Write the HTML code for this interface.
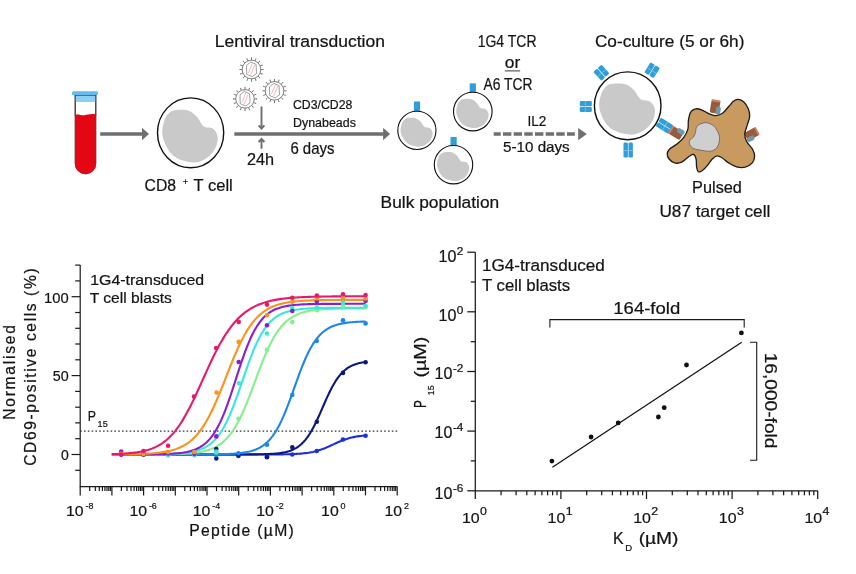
<!DOCTYPE html>
<html><head><meta charset="utf-8"><title>Figure</title>
<style>
html,body{margin:0;padding:0;background:#fff;}
svg{display:block;font-family:"Liberation Sans",sans-serif;fill:#141414;}
text{stroke:#141414;stroke-width:0.22px;}
</style></head><body>
<svg width="856" height="574" viewBox="0 0 856 574">
<rect width="856" height="574" fill="#fff"/>
<path d="M75.2,94 L75.2,163.5 A10.3,10.3 0 0 0 95.8,163.5 L95.8,94 Z" fill="#fff" stroke="#222" stroke-width="0.8"/>
<rect x="75.2" y="94" width="20.6" height="8" fill="#8ccff0"/>
<path d="M75.2,94V116M95.8,94V116M75.2,95.2H95.8" fill="none" stroke="#222" stroke-width="0.8"/>
<path d="M74.9,115 C78,113.6 81,115.6 84.5,115.2 C88,114.8 91.5,113.4 96.1,114.6 L96.1,163.6 A10.6,10.6 0 0 1 74.9,163.6 Z" fill="#e30613"/>
<rect x="71.9" y="91.2" width="26.1" height="3.8" rx="1.6" fill="#62bbea"/>
<line x1="100.2" y1="134.1" x2="142.5" y2="134.1" stroke="#6f6f6f" stroke-width="3.5"/>
<path d="M142,127.85L149,134.1L142,140.35Z" fill="#6f6f6f"/>
<ellipse cx="190.6" cy="132.8" rx="33.1" ry="34.9" fill="#fff" stroke="#111" stroke-width="1.4"/>
<path d="M173.5,110.4C175.6,109.8 178.7,109.6 181.3,109.7C183.9,109.8 186.6,109.7 189.2,110.9C191.8,112.1 195.0,114.5 197.0,116.7C199.0,118.8 200.1,122.1 201.4,123.8C202.7,125.5 203.0,126.1 204.9,126.9C206.8,127.7 210.6,127.1 212.7,128.5C214.8,129.9 216.8,132.7 217.4,135.5C218.1,138.3 217.8,141.7 216.6,145.0C215.4,148.3 213.4,152.4 210.4,155.2C207.4,158.0 202.7,160.9 198.6,161.9C194.5,162.9 190.3,162.4 186.1,161.4C181.9,160.4 176.9,158.6 173.5,155.9C170.1,153.2 167.6,148.9 165.7,145.0C163.8,141.1 162.3,136.7 162.2,132.4C162.1,128.1 163.8,122.3 164.9,119.1C166.0,115.9 167.4,114.7 168.8,113.3C170.2,111.8 171.4,111.0 173.5,110.4Z" fill="#c9c9c9"/>
<text x="144.6" y="191.0" font-size="16.7" textLength="31.5" lengthAdjust="spacingAndGlyphs" >CD8</text>
<text x="182.8" y="185.2" font-size="9.5" textLength="5.4" lengthAdjust="spacingAndGlyphs" >+</text>
<text x="193.6" y="191.0" font-size="16.7" textLength="39.2" lengthAdjust="spacingAndGlyphs" >T cell</text>
<text x="214.8" y="47.1" font-size="16.7" textLength="170.1" lengthAdjust="spacingAndGlyphs" >Lentiviral transduction</text>
<g stroke="#555" stroke-width="0.75" fill="none"><circle cx="251.5" cy="69.5" r="9.3" fill="#fff"/><line x1="260.8" y1="69.5" x2="262.8" y2="69.5"/><circle cx="263.1" cy="69.5" r="0.55" fill="#5a5a5a" stroke="none"/><line x1="260.1" y1="73.1" x2="261.9" y2="73.8"/><circle cx="262.2" cy="73.9" r="0.55" fill="#5a5a5a" stroke="none"/><line x1="258.1" y1="76.1" x2="259.5" y2="77.5"/><circle cx="259.7" cy="77.7" r="0.55" fill="#5a5a5a" stroke="none"/><line x1="255.1" y1="78.1" x2="255.8" y2="79.9"/><circle cx="255.9" cy="80.2" r="0.55" fill="#5a5a5a" stroke="none"/><line x1="251.5" y1="78.8" x2="251.5" y2="80.8"/><circle cx="251.5" cy="81.1" r="0.55" fill="#5a5a5a" stroke="none"/><line x1="247.9" y1="78.1" x2="247.2" y2="79.9"/><circle cx="247.1" cy="80.2" r="0.55" fill="#5a5a5a" stroke="none"/><line x1="244.9" y1="76.1" x2="243.5" y2="77.5"/><circle cx="243.3" cy="77.7" r="0.55" fill="#5a5a5a" stroke="none"/><line x1="242.9" y1="73.1" x2="241.1" y2="73.8"/><circle cx="240.8" cy="73.9" r="0.55" fill="#5a5a5a" stroke="none"/><line x1="242.2" y1="69.5" x2="240.2" y2="69.5"/><circle cx="239.9" cy="69.5" r="0.55" fill="#5a5a5a" stroke="none"/><line x1="242.9" y1="65.9" x2="241.1" y2="65.2"/><circle cx="240.8" cy="65.1" r="0.55" fill="#5a5a5a" stroke="none"/><line x1="244.9" y1="62.9" x2="243.5" y2="61.5"/><circle cx="243.3" cy="61.3" r="0.55" fill="#5a5a5a" stroke="none"/><line x1="247.9" y1="60.9" x2="247.2" y2="59.1"/><circle cx="247.1" cy="58.8" r="0.55" fill="#5a5a5a" stroke="none"/><line x1="251.5" y1="60.2" x2="251.5" y2="58.2"/><circle cx="251.5" cy="57.9" r="0.55" fill="#5a5a5a" stroke="none"/><line x1="255.1" y1="60.9" x2="255.8" y2="59.1"/><circle cx="255.9" cy="58.8" r="0.55" fill="#5a5a5a" stroke="none"/><line x1="258.1" y1="62.9" x2="259.5" y2="61.5"/><circle cx="259.7" cy="61.3" r="0.55" fill="#5a5a5a" stroke="none"/><line x1="260.1" y1="65.9" x2="261.9" y2="65.2"/><circle cx="262.2" cy="65.1" r="0.55" fill="#5a5a5a" stroke="none"/><polygon points="250.7,62.0 256.1,64.3 256.5,73.5 252.2,76.6 246.7,74.3 246.5,65.5" stroke-width="0.55"/><path d="M248.4,73.0L252.4,63.2M250.7,74.7L254.7,64.9" stroke="#e88a90" stroke-width="0.6"/></g>
<g stroke="#555" stroke-width="0.75" fill="none"><circle cx="274.5" cy="90.8" r="9.3" fill="#fff"/><line x1="283.8" y1="90.8" x2="285.8" y2="90.8"/><circle cx="286.1" cy="90.8" r="0.55" fill="#5a5a5a" stroke="none"/><line x1="283.1" y1="94.4" x2="284.9" y2="95.1"/><circle cx="285.2" cy="95.2" r="0.55" fill="#5a5a5a" stroke="none"/><line x1="281.1" y1="97.4" x2="282.5" y2="98.8"/><circle cx="282.7" cy="99.0" r="0.55" fill="#5a5a5a" stroke="none"/><line x1="278.1" y1="99.4" x2="278.8" y2="101.2"/><circle cx="278.9" cy="101.5" r="0.55" fill="#5a5a5a" stroke="none"/><line x1="274.5" y1="100.1" x2="274.5" y2="102.1"/><circle cx="274.5" cy="102.4" r="0.55" fill="#5a5a5a" stroke="none"/><line x1="270.9" y1="99.4" x2="270.2" y2="101.2"/><circle cx="270.1" cy="101.5" r="0.55" fill="#5a5a5a" stroke="none"/><line x1="267.9" y1="97.4" x2="266.5" y2="98.8"/><circle cx="266.3" cy="99.0" r="0.55" fill="#5a5a5a" stroke="none"/><line x1="265.9" y1="94.4" x2="264.1" y2="95.1"/><circle cx="263.8" cy="95.2" r="0.55" fill="#5a5a5a" stroke="none"/><line x1="265.2" y1="90.8" x2="263.2" y2="90.8"/><circle cx="262.9" cy="90.8" r="0.55" fill="#5a5a5a" stroke="none"/><line x1="265.9" y1="87.2" x2="264.1" y2="86.5"/><circle cx="263.8" cy="86.4" r="0.55" fill="#5a5a5a" stroke="none"/><line x1="267.9" y1="84.2" x2="266.5" y2="82.8"/><circle cx="266.3" cy="82.6" r="0.55" fill="#5a5a5a" stroke="none"/><line x1="270.9" y1="82.2" x2="270.2" y2="80.4"/><circle cx="270.1" cy="80.1" r="0.55" fill="#5a5a5a" stroke="none"/><line x1="274.5" y1="81.5" x2="274.5" y2="79.5"/><circle cx="274.5" cy="79.2" r="0.55" fill="#5a5a5a" stroke="none"/><line x1="278.1" y1="82.2" x2="278.8" y2="80.4"/><circle cx="278.9" cy="80.1" r="0.55" fill="#5a5a5a" stroke="none"/><line x1="281.1" y1="84.2" x2="282.5" y2="82.8"/><circle cx="282.7" cy="82.6" r="0.55" fill="#5a5a5a" stroke="none"/><line x1="283.1" y1="87.2" x2="284.9" y2="86.5"/><circle cx="285.2" cy="86.4" r="0.55" fill="#5a5a5a" stroke="none"/><polygon points="273.7,83.3 279.1,85.6 279.5,94.8 275.2,97.9 269.7,95.6 269.5,86.8" stroke-width="0.55"/><path d="M271.4,94.3L275.4,84.5M273.7,96.0L277.7,86.2" stroke="#e88a90" stroke-width="0.6"/></g>
<g stroke="#555" stroke-width="0.75" fill="none"><circle cx="245.0" cy="98.9" r="9.3" fill="#fff"/><line x1="254.3" y1="98.9" x2="256.3" y2="98.9"/><circle cx="256.6" cy="98.9" r="0.55" fill="#5a5a5a" stroke="none"/><line x1="253.6" y1="102.5" x2="255.4" y2="103.2"/><circle cx="255.7" cy="103.3" r="0.55" fill="#5a5a5a" stroke="none"/><line x1="251.6" y1="105.5" x2="253.0" y2="106.9"/><circle cx="253.2" cy="107.1" r="0.55" fill="#5a5a5a" stroke="none"/><line x1="248.6" y1="107.5" x2="249.3" y2="109.3"/><circle cx="249.4" cy="109.6" r="0.55" fill="#5a5a5a" stroke="none"/><line x1="245.0" y1="108.2" x2="245.0" y2="110.2"/><circle cx="245.0" cy="110.5" r="0.55" fill="#5a5a5a" stroke="none"/><line x1="241.4" y1="107.5" x2="240.7" y2="109.3"/><circle cx="240.6" cy="109.6" r="0.55" fill="#5a5a5a" stroke="none"/><line x1="238.4" y1="105.5" x2="237.0" y2="106.9"/><circle cx="236.8" cy="107.1" r="0.55" fill="#5a5a5a" stroke="none"/><line x1="236.4" y1="102.5" x2="234.6" y2="103.2"/><circle cx="234.3" cy="103.3" r="0.55" fill="#5a5a5a" stroke="none"/><line x1="235.7" y1="98.9" x2="233.7" y2="98.9"/><circle cx="233.4" cy="98.9" r="0.55" fill="#5a5a5a" stroke="none"/><line x1="236.4" y1="95.3" x2="234.6" y2="94.6"/><circle cx="234.3" cy="94.5" r="0.55" fill="#5a5a5a" stroke="none"/><line x1="238.4" y1="92.3" x2="237.0" y2="90.9"/><circle cx="236.8" cy="90.7" r="0.55" fill="#5a5a5a" stroke="none"/><line x1="241.4" y1="90.3" x2="240.7" y2="88.5"/><circle cx="240.6" cy="88.2" r="0.55" fill="#5a5a5a" stroke="none"/><line x1="245.0" y1="89.6" x2="245.0" y2="87.6"/><circle cx="245.0" cy="87.3" r="0.55" fill="#5a5a5a" stroke="none"/><line x1="248.6" y1="90.3" x2="249.3" y2="88.5"/><circle cx="249.4" cy="88.2" r="0.55" fill="#5a5a5a" stroke="none"/><line x1="251.6" y1="92.3" x2="253.0" y2="90.9"/><circle cx="253.2" cy="90.7" r="0.55" fill="#5a5a5a" stroke="none"/><line x1="253.6" y1="95.3" x2="255.4" y2="94.6"/><circle cx="255.7" cy="94.5" r="0.55" fill="#5a5a5a" stroke="none"/><polygon points="244.2,91.4 249.6,93.7 250.0,102.9 245.7,106.0 240.2,103.7 240.0,94.9" stroke-width="0.55"/><path d="M241.9,102.4L245.9,92.6M244.2,104.1L248.2,94.3" stroke="#e88a90" stroke-width="0.6"/></g>
<g stroke="#6f6f6f" stroke-width="1.9" fill="none"><path d="M261.5,106.4V128.2M258.6,125.4L261.5,128.6L264.4,125.4"/><path d="M261.5,148.8V139.2M258.6,142L261.5,138.8L264.4,142"/></g>
<line x1="234.3" y1="134.1" x2="383.6" y2="134.1" stroke="#6f6f6f" stroke-width="3.5"/>
<path d="M383.1,127.85L390.1,134.1L383.1,140.35Z" fill="#6f6f6f"/>
<text x="246.9" y="165.0" font-size="15.9" textLength="27.1" lengthAdjust="spacingAndGlyphs" >24h</text>
<text x="293.0" y="109.1" font-size="12.8" textLength="59.4" lengthAdjust="spacingAndGlyphs" >CD3/CD28</text>
<text x="293.0" y="126.6" font-size="12.8" textLength="62.9" lengthAdjust="spacingAndGlyphs" >Dynabeads</text>
<text x="290.4" y="154.0" font-size="15.9" textLength="44.1" lengthAdjust="spacingAndGlyphs" >6 days</text>
<rect x="413.9" y="101.5" width="6.2" height="9.5" fill="#2f9edb"/>
<ellipse cx="416.9" cy="130.4" rx="19.1" ry="19.1" fill="#fff" stroke="#111" stroke-width="1.1"/>
<path d="M407.0,118.1C408.2,117.8 410.0,117.7 411.5,117.8C413.0,117.8 414.6,117.8 416.1,118.4C417.6,119.0 419.4,120.4 420.6,121.6C421.8,122.8 422.4,124.5 423.1,125.5C423.9,126.4 424.1,126.7 425.2,127.2C426.2,127.6 428.5,127.3 429.7,128.0C430.9,128.8 432.0,130.4 432.4,131.9C432.7,133.4 432.6,135.3 431.9,137.1C431.2,138.9 430.1,141.1 428.3,142.7C426.6,144.2 423.9,145.8 421.5,146.3C419.2,146.9 416.7,146.6 414.3,146.1C411.9,145.5 409.0,144.5 407.0,143.0C405.1,141.6 403.6,139.2 402.5,137.1C401.4,134.9 400.6,132.5 400.5,130.2C400.4,127.8 401.4,124.6 402.1,122.9C402.7,121.2 403.5,120.5 404.3,119.7C405.1,118.9 405.8,118.5 407.0,118.1Z" fill="#c9c9c9"/>
<rect x="469.7" y="83.39999999999999" width="6.2" height="9.5" fill="#2f9edb"/>
<ellipse cx="472.8" cy="111.6" rx="19.3" ry="19.3" fill="#fff" stroke="#111" stroke-width="1.1"/>
<path d="M462.8,99.2C464.0,98.9 465.9,98.8 467.4,98.8C468.9,98.9 470.5,98.8 472.0,99.5C473.5,100.1 475.3,101.5 476.5,102.7C477.7,103.9 478.3,105.7 479.1,106.6C479.9,107.6 480.0,107.9 481.1,108.3C482.2,108.8 484.5,108.4 485.7,109.2C486.9,110.0 488.0,111.6 488.4,113.1C488.8,114.6 488.6,116.5 488.0,118.3C487.3,120.2 486.1,122.4 484.3,124.0C482.6,125.6 479.8,127.1 477.5,127.7C475.1,128.3 472.6,128.0 470.2,127.4C467.7,126.9 464.8,125.9 462.8,124.4C460.8,122.9 459.4,120.5 458.3,118.3C457.2,116.2 456.3,113.8 456.2,111.4C456.2,109.0 457.2,105.8 457.8,104.0C458.5,102.3 459.3,101.6 460.1,100.8C460.9,100.0 461.6,99.5 462.8,99.2Z" fill="#c9c9c9"/>
<rect x="450.5" y="137.0" width="6.2" height="9.5" fill="#2f9edb"/>
<ellipse cx="453.5" cy="164.7" rx="19.2" ry="19.2" fill="#fff" stroke="#111" stroke-width="1.1"/>
<path d="M443.6,152.4C444.8,152.0 446.6,151.9 448.1,152.0C449.6,152.0 451.2,152.0 452.7,152.6C454.2,153.3 456.0,154.7 457.2,155.8C458.4,157.0 459.0,158.8 459.8,159.7C460.5,160.7 460.7,161.0 461.8,161.5C462.9,161.9 465.1,161.5 466.3,162.3C467.5,163.1 468.7,164.7 469.0,166.2C469.4,167.7 469.3,169.6 468.6,171.4C467.9,173.2 466.7,175.5 465.0,177.0C463.2,178.6 460.5,180.1 458.1,180.7C455.8,181.3 453.3,181.0 450.9,180.4C448.5,179.9 445.6,178.9 443.6,177.4C441.6,175.9 440.1,173.6 439.1,171.4C438.0,169.3 437.1,166.9 437.0,164.5C436.9,162.1 438.0,158.9 438.6,157.2C439.2,155.4 440.0,154.8 440.9,154.0C441.7,153.2 442.4,152.7 443.6,152.4Z" fill="#c9c9c9"/>
<text x="380.6" y="208.4" font-size="16.7" textLength="118.6" lengthAdjust="spacingAndGlyphs" >Bulk population</text>
<text x="477.7" y="46.6" font-size="15.9" textLength="58.8" lengthAdjust="spacingAndGlyphs" >1G4 TCR</text>
<text x="504.8" y="68.2" font-size="15.9" textLength="15.4" lengthAdjust="spacingAndGlyphs" >or</text>
<line x1="504.8" y1="70.9" x2="520.2" y2="70.9" stroke="#222" stroke-width="0.9"/>
<text x="483.5" y="89.5" font-size="15.9" textLength="49.0" lengthAdjust="spacingAndGlyphs" >A6 TCR</text>
<text x="527.4" y="126.4" font-size="15.4" textLength="18.9" lengthAdjust="spacingAndGlyphs" >IL2</text>
<line x1="493.7" y1="134.1" x2="574.9" y2="134.1" stroke="#6f6f6f" stroke-width="3.5" stroke-dasharray="8.4 2.27" stroke-dashoffset="1.4"/>
<path d="M578.2,127.9L586.8,134.1L578.2,140.3Z" fill="#6f6f6f"/>
<text x="503.1" y="152.2" font-size="15.4" textLength="66.6" lengthAdjust="spacingAndGlyphs" >5-10 days</text>
<text x="594.9" y="47.1" font-size="16.7" textLength="149.5" lengthAdjust="spacingAndGlyphs" >Co-culture (5 or 6h)</text>
<g transform="translate(601.4,72.7) rotate(-42)"><rect x="-5.5" y="-6.0" width="5.2" height="12" rx="1.3" fill="#2f9edb"/><rect x="0.3" y="-6.0" width="5.2" height="12" rx="1.3" fill="#2f9edb"/><line x1="-5.5" y1="0.5" x2="5.5" y2="0.5" stroke="#7cc4ea" stroke-width="0.8"/></g>
<g transform="translate(652.1,70.2) rotate(32)"><rect x="-5.5" y="-6.0" width="5.2" height="12" rx="1.3" fill="#2f9edb"/><rect x="0.3" y="-6.0" width="5.2" height="12" rx="1.3" fill="#2f9edb"/><line x1="-5.5" y1="0.5" x2="5.5" y2="0.5" stroke="#7cc4ea" stroke-width="0.8"/></g>
<g transform="translate(585.8,106.6) rotate(90)"><rect x="-5.5" y="-6.0" width="5.2" height="12" rx="1.3" fill="#2f9edb"/><rect x="0.3" y="-6.0" width="5.2" height="12" rx="1.3" fill="#2f9edb"/><line x1="-5.5" y1="0.5" x2="5.5" y2="0.5" stroke="#7cc4ea" stroke-width="0.8"/></g>
<g transform="translate(628.2,150.0) rotate(0)"><rect x="-4.7" y="-7.5" width="4.4" height="15" rx="1.3" fill="#2f9edb"/><rect x="0.3" y="-7.5" width="4.4" height="15" rx="1.3" fill="#2f9edb"/><line x1="-4.7" y1="0.5" x2="4.7" y2="0.5" stroke="#7cc4ea" stroke-width="0.8"/></g>
<g transform="translate(664.6,125.8) rotate(-58)"><rect x="-5.0" y="-7.5" width="4.7" height="15" rx="1.3" fill="#2f9edb"/><rect x="0.3" y="-7.5" width="4.7" height="15" rx="1.3" fill="#2f9edb"/><line x1="-5.0" y1="0.5" x2="5.0" y2="0.5" stroke="#7cc4ea" stroke-width="0.8"/></g>
<ellipse cx="627.7" cy="105.8" rx="33.3" ry="33.9" fill="#fff" stroke="#111" stroke-width="1.4"/>
<path d="M610.5,84.0C612.6,83.5 615.7,83.3 618.3,83.4C621.0,83.4 623.7,83.4 626.3,84.5C628.9,85.7 632.1,88.1 634.1,90.2C636.2,92.2 637.2,95.4 638.6,97.1C639.9,98.7 640.2,99.3 642.1,100.1C644.0,100.8 647.8,100.2 649.9,101.6C652.0,103.0 654.0,105.8 654.7,108.4C655.3,111.1 655.0,114.5 653.9,117.7C652.7,120.8 650.6,124.8 647.6,127.6C644.6,130.3 639.8,133.1 635.7,134.1C631.7,135.1 627.4,134.6 623.2,133.6C619.0,132.6 613.9,130.9 610.5,128.2C607.1,125.6 604.5,121.5 602.6,117.7C600.8,113.8 599.3,109.6 599.1,105.4C599.0,101.2 600.7,95.6 601.8,92.5C603.0,89.4 604.3,88.3 605.8,86.9C607.2,85.4 608.4,84.6 610.5,84.0Z" fill="#c9c9c9"/>
<g transform="translate(715.6,107.0) rotate(10) scale(1.15)"><rect x="-4.4" y="-6" width="7.8" height="11.5" rx="1.5" fill="#9a5b3d"/><rect x="-4.4" y="-6.1" width="7.8" height="1.6" rx="0.8" fill="#cf8370"/><rect x="0.6" y="-0.8" width="4.2" height="6.8" rx="1.6" fill="#6f9aa8"/></g>
<g transform="translate(751.8,134.6) rotate(62) scale(1.15)"><rect x="-4.4" y="-6" width="7.8" height="11.5" rx="1.5" fill="#9a5b3d"/><rect x="-4.4" y="-6.1" width="7.8" height="1.6" rx="0.8" fill="#cf8370"/><rect x="0.6" y="-0.8" width="4.2" height="6.8" rx="1.6" fill="#6f9aa8"/></g>
<g transform="translate(676.6,132.6) rotate(-58) scale(1.15)"><rect x="-4.4" y="-6" width="7.8" height="11.5" rx="1.5" fill="#9a5b3d"/><rect x="-4.4" y="-6.1" width="7.8" height="1.6" rx="0.8" fill="#cf8370"/><rect x="0.6" y="-0.8" width="4.2" height="6.8" rx="1.6" fill="#6f9aa8"/></g>
<path d="M691.4,111.2C692.4,110.1 694.0,109.0 695.8,108.8C697.6,108.6 699.8,109.2 702.1,110.1C704.3,110.9 706.9,112.9 709.1,113.8C711.3,114.8 713.2,115.7 715.4,115.6C717.6,115.5 720.2,114.7 722.5,113.2C724.7,111.7 726.9,108.5 728.7,106.5C730.6,104.5 731.9,102.5 733.4,101.3C735.0,100.1 736.4,99.3 738.1,99.4C739.8,99.5 741.9,100.2 743.6,101.8C745.3,103.3 747.3,106.3 748.3,108.8C749.3,111.3 749.8,113.9 749.6,116.7C749.4,119.4 748.0,122.4 747.2,125.3C746.4,128.2 744.8,131.2 744.7,133.9C744.6,136.7 745.5,139.3 746.8,141.8C748.0,144.2 750.9,146.5 752.3,148.8C753.6,151.2 754.6,153.5 754.6,155.9C754.6,158.2 753.8,161.1 752.3,162.9C750.7,164.8 747.8,166.5 745.2,167.2C742.6,167.8 739.3,167.6 736.6,166.9C733.8,166.2 731.2,164.5 728.7,162.9C726.2,161.4 723.6,158.6 721.7,157.5C719.7,156.3 718.5,155.6 717.0,155.9C715.4,156.1 713.8,157.5 712.3,159.0C710.7,160.6 709.2,163.3 707.5,165.3C705.8,167.3 703.6,169.7 702.1,170.8C700.5,171.8 699.1,172.2 698.1,171.6C697.2,170.9 696.9,169.0 696.6,166.9C696.2,164.8 696.6,161.1 696.1,159.0C695.6,156.9 694.7,154.7 693.4,154.3C692.2,153.9 690.7,155.4 688.7,156.7C686.8,158.0 684.0,161.1 681.7,162.2C679.3,163.2 676.7,163.5 674.6,162.9C672.5,162.4 670.3,160.6 669.1,159.0C667.9,157.5 667.1,155.2 667.2,153.5C667.4,151.8 668.3,150.4 669.9,148.8C671.5,147.3 674.6,146.1 677.0,144.1C679.3,142.2 682.2,139.5 684.0,137.1C685.8,134.6 687.2,131.8 687.9,129.2C688.6,126.6 688.0,123.7 688.3,121.4C688.5,119.0 689.0,116.8 689.5,115.1C690.0,113.4 690.3,112.2 691.4,111.2Z" fill="#c99a5f" stroke="#1a1a1a" stroke-width="1.3" stroke-linejoin="round"/>
<path d="M698.1,125.3C699.4,124.4 701.8,123.3 703.6,122.9C705.5,122.6 707.2,122.5 709.1,123.3C711.1,124.0 713.7,125.7 715.4,127.6C717.0,129.6 718.3,132.4 719.0,134.7C719.7,137.1 719.7,139.5 719.3,141.8C718.9,144.0 717.9,146.5 716.5,148.0C715.1,149.6 713.1,150.8 710.7,151.2C708.3,151.6 704.8,150.8 702.1,150.4C699.3,150.0 696.3,149.7 694.2,148.8C692.2,147.9 690.6,146.3 689.8,144.9C689.1,143.5 689.2,141.5 689.8,140.2C690.4,138.9 692.5,138.4 693.4,137.1C694.4,135.8 695.0,133.8 695.5,132.4C695.9,130.9 695.7,129.6 696.1,128.4C696.5,127.3 696.9,126.2 698.1,125.3Z" fill="#cfcfcf" stroke="#666" stroke-width="0.9"/>
<text x="692.1" y="192.9" font-size="16.5" textLength="49.8" lengthAdjust="spacingAndGlyphs" >Pulsed</text>
<text x="659.4" y="216.7" font-size="16.5" textLength="110.9" lengthAdjust="spacingAndGlyphs" >U87 target cell</text>
<g stroke="#1a1a1a" stroke-width="1.2" fill="none" stroke-linecap="butt"><path d="M80.2,265.1V486.6H397.2"/><line x1="75.2" y1="470.3" x2="80.2" y2="470.3"/><line x1="71.60000000000001" y1="454.5" x2="80.2" y2="454.5"/><line x1="75.2" y1="438.7" x2="80.2" y2="438.7"/><line x1="75.2" y1="422.9" x2="80.2" y2="422.9"/><line x1="75.2" y1="407.2" x2="80.2" y2="407.2"/><line x1="75.2" y1="391.4" x2="80.2" y2="391.4"/><line x1="71.60000000000001" y1="375.6" x2="80.2" y2="375.6"/><line x1="75.2" y1="359.8" x2="80.2" y2="359.8"/><line x1="75.2" y1="344.0" x2="80.2" y2="344.0"/><line x1="75.2" y1="328.3" x2="80.2" y2="328.3"/><line x1="75.2" y1="312.5" x2="80.2" y2="312.5"/><line x1="71.60000000000001" y1="296.7" x2="80.2" y2="296.7"/><line x1="75.2" y1="280.9" x2="80.2" y2="280.9"/><line x1="75.2" y1="265.1" x2="80.2" y2="265.1"/><line x1="80.2" y1="486.6" x2="80.2" y2="495.40000000000003"/><line x1="89.7" y1="486.6" x2="89.7" y2="491.1"/><line x1="95.3" y1="486.6" x2="95.3" y2="491.1"/><line x1="99.3" y1="486.6" x2="99.3" y2="491.1"/><line x1="102.4" y1="486.6" x2="102.4" y2="491.1"/><line x1="104.9" y1="486.6" x2="104.9" y2="491.1"/><line x1="107.0" y1="486.6" x2="107.0" y2="491.1"/><line x1="108.8" y1="486.6" x2="108.8" y2="491.1"/><line x1="110.4" y1="486.6" x2="110.4" y2="491.1"/><line x1="111.9" y1="486.6" x2="111.9" y2="495.40000000000003"/><line x1="121.4" y1="486.6" x2="121.4" y2="491.1"/><line x1="127.0" y1="486.6" x2="127.0" y2="491.1"/><line x1="131.0" y1="486.6" x2="131.0" y2="491.1"/><line x1="134.1" y1="486.6" x2="134.1" y2="491.1"/><line x1="136.6" y1="486.6" x2="136.6" y2="491.1"/><line x1="138.7" y1="486.6" x2="138.7" y2="491.1"/><line x1="140.5" y1="486.6" x2="140.5" y2="491.1"/><line x1="142.1" y1="486.6" x2="142.1" y2="491.1"/><line x1="143.6" y1="486.6" x2="143.6" y2="495.40000000000003"/><line x1="153.1" y1="486.6" x2="153.1" y2="491.1"/><line x1="158.7" y1="486.6" x2="158.7" y2="491.1"/><line x1="162.7" y1="486.6" x2="162.7" y2="491.1"/><line x1="165.8" y1="486.6" x2="165.8" y2="491.1"/><line x1="168.3" y1="486.6" x2="168.3" y2="491.1"/><line x1="170.4" y1="486.6" x2="170.4" y2="491.1"/><line x1="172.2" y1="486.6" x2="172.2" y2="491.1"/><line x1="173.8" y1="486.6" x2="173.8" y2="491.1"/><line x1="175.3" y1="486.6" x2="175.3" y2="495.40000000000003"/><line x1="184.8" y1="486.6" x2="184.8" y2="491.1"/><line x1="190.4" y1="486.6" x2="190.4" y2="491.1"/><line x1="194.4" y1="486.6" x2="194.4" y2="491.1"/><line x1="197.5" y1="486.6" x2="197.5" y2="491.1"/><line x1="200.0" y1="486.6" x2="200.0" y2="491.1"/><line x1="202.1" y1="486.6" x2="202.1" y2="491.1"/><line x1="203.9" y1="486.6" x2="203.9" y2="491.1"/><line x1="205.5" y1="486.6" x2="205.5" y2="491.1"/><line x1="207.0" y1="486.6" x2="207.0" y2="495.40000000000003"/><line x1="216.5" y1="486.6" x2="216.5" y2="491.1"/><line x1="222.1" y1="486.6" x2="222.1" y2="491.1"/><line x1="226.1" y1="486.6" x2="226.1" y2="491.1"/><line x1="229.2" y1="486.6" x2="229.2" y2="491.1"/><line x1="231.7" y1="486.6" x2="231.7" y2="491.1"/><line x1="233.8" y1="486.6" x2="233.8" y2="491.1"/><line x1="235.6" y1="486.6" x2="235.6" y2="491.1"/><line x1="237.2" y1="486.6" x2="237.2" y2="491.1"/><line x1="238.7" y1="486.6" x2="238.7" y2="495.40000000000003"/><line x1="248.2" y1="486.6" x2="248.2" y2="491.1"/><line x1="253.8" y1="486.6" x2="253.8" y2="491.1"/><line x1="257.8" y1="486.6" x2="257.8" y2="491.1"/><line x1="260.9" y1="486.6" x2="260.9" y2="491.1"/><line x1="263.4" y1="486.6" x2="263.4" y2="491.1"/><line x1="265.5" y1="486.6" x2="265.5" y2="491.1"/><line x1="267.3" y1="486.6" x2="267.3" y2="491.1"/><line x1="268.9" y1="486.6" x2="268.9" y2="491.1"/><line x1="270.4" y1="486.6" x2="270.4" y2="495.40000000000003"/><line x1="279.9" y1="486.6" x2="279.9" y2="491.1"/><line x1="285.5" y1="486.6" x2="285.5" y2="491.1"/><line x1="289.5" y1="486.6" x2="289.5" y2="491.1"/><line x1="292.6" y1="486.6" x2="292.6" y2="491.1"/><line x1="295.1" y1="486.6" x2="295.1" y2="491.1"/><line x1="297.2" y1="486.6" x2="297.2" y2="491.1"/><line x1="299.0" y1="486.6" x2="299.0" y2="491.1"/><line x1="300.6" y1="486.6" x2="300.6" y2="491.1"/><line x1="302.1" y1="486.6" x2="302.1" y2="495.40000000000003"/><line x1="311.6" y1="486.6" x2="311.6" y2="491.1"/><line x1="317.2" y1="486.6" x2="317.2" y2="491.1"/><line x1="321.2" y1="486.6" x2="321.2" y2="491.1"/><line x1="324.3" y1="486.6" x2="324.3" y2="491.1"/><line x1="326.8" y1="486.6" x2="326.8" y2="491.1"/><line x1="328.9" y1="486.6" x2="328.9" y2="491.1"/><line x1="330.7" y1="486.6" x2="330.7" y2="491.1"/><line x1="332.3" y1="486.6" x2="332.3" y2="491.1"/><line x1="333.8" y1="486.6" x2="333.8" y2="495.40000000000003"/><line x1="343.3" y1="486.6" x2="343.3" y2="491.1"/><line x1="348.9" y1="486.6" x2="348.9" y2="491.1"/><line x1="352.9" y1="486.6" x2="352.9" y2="491.1"/><line x1="356.0" y1="486.6" x2="356.0" y2="491.1"/><line x1="358.5" y1="486.6" x2="358.5" y2="491.1"/><line x1="360.6" y1="486.6" x2="360.6" y2="491.1"/><line x1="362.4" y1="486.6" x2="362.4" y2="491.1"/><line x1="364.0" y1="486.6" x2="364.0" y2="491.1"/><line x1="365.5" y1="486.6" x2="365.5" y2="495.40000000000003"/><line x1="375.0" y1="486.6" x2="375.0" y2="491.1"/><line x1="380.6" y1="486.6" x2="380.6" y2="491.1"/><line x1="384.6" y1="486.6" x2="384.6" y2="491.1"/><line x1="387.7" y1="486.6" x2="387.7" y2="491.1"/><line x1="390.2" y1="486.6" x2="390.2" y2="491.1"/><line x1="392.3" y1="486.6" x2="392.3" y2="491.1"/><line x1="394.1" y1="486.6" x2="394.1" y2="491.1"/><line x1="395.7" y1="486.6" x2="395.7" y2="491.1"/><line x1="397.2" y1="486.6" x2="397.2" y2="495.40000000000003"/></g>
<line x1="80.2" y1="431.1" x2="397.2" y2="431.1" stroke="#333" stroke-width="1.2" stroke-dasharray="1.6 2.2"/>
<text x="66.0" y="515.8" font-size="15.3" textLength="17.6" lengthAdjust="spacingAndGlyphs">10</text>
<text x="85.5" y="508.5" font-size="9.4" textLength="7.9" lengthAdjust="spacingAndGlyphs">-8</text>
<text x="129.4" y="515.8" font-size="15.3" textLength="17.6" lengthAdjust="spacingAndGlyphs">10</text>
<text x="148.9" y="508.5" font-size="9.4" textLength="7.9" lengthAdjust="spacingAndGlyphs">-6</text>
<text x="192.8" y="515.8" font-size="15.3" textLength="17.6" lengthAdjust="spacingAndGlyphs">10</text>
<text x="212.3" y="508.5" font-size="9.4" textLength="7.9" lengthAdjust="spacingAndGlyphs">-4</text>
<text x="256.2" y="515.8" font-size="15.3" textLength="17.6" lengthAdjust="spacingAndGlyphs">10</text>
<text x="275.7" y="508.5" font-size="9.4" textLength="7.9" lengthAdjust="spacingAndGlyphs">-2</text>
<text x="321.1" y="515.8" font-size="15.3" textLength="17.6" lengthAdjust="spacingAndGlyphs">10</text>
<text x="340.6" y="508.5" font-size="9.4" textLength="5.0" lengthAdjust="spacingAndGlyphs">0</text>
<text x="384.5" y="515.8" font-size="15.3" textLength="17.6" lengthAdjust="spacingAndGlyphs">10</text>
<text x="404.0" y="508.5" font-size="9.4" textLength="5.0" lengthAdjust="spacingAndGlyphs">2</text>
<text x="44.1" y="303.3" font-size="15.3" textLength="24.6" lengthAdjust="spacingAndGlyphs" >100</text>
<text x="52.8" y="381.3" font-size="15.3" textLength="15.9" lengthAdjust="spacingAndGlyphs" >50</text>
<text x="60.9" y="459.9" font-size="15.3" textLength="7.8" lengthAdjust="spacingAndGlyphs" >0</text>
<text x="90.2" y="284.5" font-size="15.4" textLength="114.0" lengthAdjust="spacingAndGlyphs" >1G4-transduced</text>
<text x="89.7" y="302.9" font-size="15.4" textLength="82.2" lengthAdjust="spacingAndGlyphs" >T cell blasts</text>
<text x="87.8" y="420.6" font-size="14.5"><tspan textLength="8.2" lengthAdjust="spacingAndGlyphs">P</tspan><tspan dy="6.3" dx="1.6" font-size="9.6" textLength="10.1" lengthAdjust="spacingAndGlyphs">15</tspan></text>
<text x="189.2" y="536" font-size="15.7" textLength="104.6" lengthAdjust="spacing">Peptide (µM)</text>
<text transform="translate(15.3,419.8) rotate(-90)" font-size="15.6" textLength="94.7" lengthAdjust="spacing">Normalised</text>
<text transform="translate(35.6,465.8) rotate(-90)" font-size="15.6" textLength="197.4" lengthAdjust="spacing">CD69-positive cells (%)</text>
<polyline points="111.9,454.50 113.4,454.50 114.9,454.50 116.4,454.50 117.9,454.50 119.4,454.50 120.9,454.50 122.4,454.50 123.9,454.50 125.4,454.50 126.9,454.50 128.4,454.50 129.9,454.50 131.4,454.50 132.9,454.50 134.4,454.50 135.9,454.50 137.4,454.50 138.9,454.50 140.4,454.50 141.9,454.50 143.4,454.50 144.9,454.50 146.4,454.50 147.9,454.50 149.4,454.50 150.9,454.50 152.4,454.50 153.9,454.50 155.4,454.50 156.9,454.50 158.4,454.50 159.9,454.50 161.4,454.50 162.9,454.50 164.4,454.50 165.9,454.50 167.4,454.50 168.9,454.50 170.4,454.50 171.9,454.50 173.4,454.50 174.9,454.50 176.4,454.50 177.9,454.50 179.4,454.50 180.9,454.50 182.4,454.50 183.9,454.50 185.4,454.50 186.9,454.50 188.4,454.50 189.9,454.50 191.4,454.50 192.9,454.50 194.4,454.50 195.9,454.50 197.4,454.50 198.9,454.50 200.4,454.50 201.9,454.50 203.4,454.50 204.9,454.50 206.4,454.50 207.9,454.50 209.4,454.50 210.9,454.50 212.4,454.50 213.9,454.50 215.4,454.50 216.9,454.50 218.4,454.50 219.9,454.50 221.4,454.50 222.9,454.50 224.4,454.50 225.9,454.50 227.4,454.50 228.9,454.50 230.4,454.50 231.9,454.50 233.4,454.50 234.9,454.50 236.4,454.50 237.9,454.50 239.4,454.50 240.9,454.50 242.4,454.50 243.9,454.50 245.4,454.49 246.9,454.49 248.4,454.49 249.9,454.49 251.4,454.49 252.9,454.49 254.4,454.49 255.9,454.49 257.4,454.48 258.9,454.48 260.4,454.48 261.9,454.48 263.4,454.47 264.9,454.47 266.4,454.46 267.9,454.46 269.4,454.45 270.9,454.44 272.4,454.44 273.9,454.43 275.4,454.41 276.9,454.40 278.4,454.39 279.9,454.37 281.4,454.35 282.9,454.33 284.4,454.30 285.9,454.27 287.4,454.24 288.9,454.20 290.4,454.15 291.9,454.10 293.4,454.04 294.9,453.97 296.4,453.89 297.9,453.80 299.4,453.70 300.9,453.58 302.4,453.45 303.9,453.30 305.4,453.13 306.9,452.94 308.4,452.73 309.9,452.48 311.4,452.21 312.9,451.91 314.4,451.57 315.9,451.20 317.4,450.79 318.9,450.35 320.4,449.86 321.9,449.34 323.4,448.78 324.9,448.19 326.4,447.56 327.9,446.91 329.4,446.23 330.9,445.54 332.4,444.84 333.9,444.14 335.4,443.44 336.9,442.75 338.4,442.08 339.9,441.43 341.4,440.81 342.9,440.22 344.4,439.67 345.9,439.16 347.4,438.68 348.9,438.24 350.4,437.84 351.9,437.47 353.4,437.15 354.9,436.85 356.4,436.58 357.9,436.35 359.4,436.14 360.9,435.95 362.4,435.78 363.9,435.64 365.4,435.51 365.5,435.50" fill="none" stroke="#1b2fe0" stroke-width="2.1" stroke-linejoin="round"/>
<polyline points="111.9,454.50 113.4,454.50 114.9,454.50 116.4,454.50 117.9,454.50 119.4,454.50 120.9,454.50 122.4,454.50 123.9,454.50 125.4,454.50 126.9,454.50 128.4,454.50 129.9,454.50 131.4,454.50 132.9,454.50 134.4,454.50 135.9,454.50 137.4,454.50 138.9,454.50 140.4,454.50 141.9,454.50 143.4,454.50 144.9,454.50 146.4,454.50 147.9,454.50 149.4,454.50 150.9,454.50 152.4,454.50 153.9,454.50 155.4,454.50 156.9,454.50 158.4,454.50 159.9,454.50 161.4,454.50 162.9,454.50 164.4,454.50 165.9,454.50 167.4,454.50 168.9,454.50 170.4,454.50 171.9,454.50 173.4,454.50 174.9,454.50 176.4,454.50 177.9,454.50 179.4,454.50 180.9,454.50 182.4,454.50 183.9,454.50 185.4,454.50 186.9,454.50 188.4,454.50 189.9,454.50 191.4,454.50 192.9,454.50 194.4,454.50 195.9,454.50 197.4,454.50 198.9,454.50 200.4,454.50 201.9,454.50 203.4,454.50 204.9,454.50 206.4,454.50 207.9,454.50 209.4,454.50 210.9,454.50 212.4,454.50 213.9,454.50 215.4,454.50 216.9,454.50 218.4,454.50 219.9,454.50 221.4,454.50 222.9,454.49 224.4,454.49 225.9,454.49 227.4,454.49 228.9,454.49 230.4,454.49 231.9,454.49 233.4,454.49 234.9,454.48 236.4,454.48 237.9,454.48 239.4,454.47 240.9,454.47 242.4,454.46 243.9,454.46 245.4,454.45 246.9,454.44 248.4,454.44 249.9,454.42 251.4,454.41 252.9,454.40 254.4,454.38 255.9,454.36 257.4,454.34 258.9,454.32 260.4,454.29 261.9,454.26 263.4,454.22 264.9,454.17 266.4,454.12 267.9,454.06 269.4,453.99 270.9,453.91 272.4,453.82 273.9,453.71 275.4,453.59 276.9,453.45 278.4,453.28 279.9,453.10 281.4,452.88 282.9,452.62 284.4,452.33 285.9,452.00 287.4,451.62 288.9,451.17 290.4,450.67 291.9,450.09 293.4,449.43 294.9,448.68 296.4,447.82 297.9,446.85 299.4,445.75 300.9,444.51 302.4,443.12 303.9,441.56 305.4,439.83 306.9,437.92 308.4,435.81 309.9,433.51 311.4,431.02 312.9,428.34 314.4,425.47 315.9,422.44 317.4,419.27 318.9,415.98 320.4,412.60 321.9,409.17 323.4,405.71 324.9,402.28 326.4,398.91 327.9,395.62 329.4,392.46 330.9,389.44 332.4,386.59 333.9,383.92 335.4,381.43 336.9,379.15 338.4,377.06 339.9,375.16 341.4,373.44 342.9,371.89 344.4,370.51 345.9,369.28 347.4,368.19 348.9,367.23 350.4,366.38 351.9,365.63 353.4,364.98 354.9,364.40 356.4,363.90 357.9,363.47 359.4,363.09 360.9,362.75 362.4,362.47 363.9,362.22 365.4,362.00 365.5,361.99" fill="none" stroke="#0b1a7a" stroke-width="2.1" stroke-linejoin="round"/>
<polyline points="111.9,454.50 113.4,454.50 114.9,454.50 116.4,454.50 117.9,454.50 119.4,454.50 120.9,454.50 122.4,454.50 123.9,454.50 125.4,454.50 126.9,454.50 128.4,454.50 129.9,454.50 131.4,454.50 132.9,454.50 134.4,454.50 135.9,454.50 137.4,454.50 138.9,454.50 140.4,454.50 141.9,454.50 143.4,454.50 144.9,454.50 146.4,454.50 147.9,454.50 149.4,454.50 150.9,454.50 152.4,454.50 153.9,454.50 155.4,454.50 156.9,454.50 158.4,454.50 159.9,454.50 161.4,454.50 162.9,454.50 164.4,454.50 165.9,454.50 167.4,454.50 168.9,454.50 170.4,454.50 171.9,454.50 173.4,454.49 174.9,454.49 176.4,454.49 177.9,454.49 179.4,454.49 180.9,454.49 182.4,454.49 183.9,454.49 185.4,454.49 186.9,454.48 188.4,454.48 189.9,454.48 191.4,454.48 192.9,454.47 194.4,454.47 195.9,454.47 197.4,454.46 198.9,454.46 200.4,454.45 201.9,454.44 203.4,454.44 204.9,454.43 206.4,454.42 207.9,454.41 209.4,454.40 210.9,454.38 212.4,454.37 213.9,454.35 215.4,454.33 216.9,454.30 218.4,454.28 219.9,454.25 221.4,454.21 222.9,454.18 224.4,454.13 225.9,454.08 227.4,454.03 228.9,453.96 230.4,453.89 231.9,453.81 233.4,453.72 234.9,453.61 236.4,453.49 237.9,453.36 239.4,453.21 240.9,453.03 242.4,452.84 243.9,452.62 245.4,452.37 246.9,452.09 248.4,451.77 249.9,451.41 251.4,451.00 252.9,450.55 254.4,450.03 255.9,449.45 257.4,448.80 258.9,448.07 260.4,447.25 261.9,446.34 263.4,445.31 264.9,444.17 266.4,442.90 267.9,441.49 269.4,439.93 270.9,438.20 272.4,436.31 273.9,434.23 275.4,431.96 276.9,429.49 278.4,426.82 279.9,423.95 281.4,420.87 282.9,417.60 284.4,414.13 285.9,410.49 287.4,406.68 288.9,402.74 290.4,398.69 291.9,394.55 293.4,390.36 294.9,386.14 296.4,381.95 297.9,377.79 299.4,373.72 300.9,369.75 302.4,365.92 303.9,362.25 305.4,358.74 306.9,355.43 308.4,352.31 309.9,349.39 311.4,346.68 312.9,344.18 314.4,341.87 315.9,339.75 317.4,337.82 318.9,336.06 320.4,334.47 321.9,333.03 323.4,331.73 324.9,330.57 326.4,329.52 327.9,328.58 329.4,327.74 330.9,327.00 332.4,326.33 333.9,325.74 335.4,325.21 336.9,324.74 338.4,324.33 339.9,323.96 341.4,323.63 342.9,323.34 344.4,323.09 345.9,322.86 347.4,322.66 348.9,322.49 350.4,322.33 351.9,322.19 353.4,322.07 354.9,321.96 356.4,321.87 357.9,321.78 359.4,321.71 360.9,321.64 362.4,321.59 363.9,321.54 365.4,321.49 365.5,321.49" fill="none" stroke="#1f86ea" stroke-width="2.1" stroke-linejoin="round"/>
<polyline points="111.9,454.50 113.4,454.50 114.9,454.50 116.4,454.49 117.9,454.49 119.4,454.49 120.9,454.49 122.4,454.49 123.9,454.49 125.4,454.49 126.9,454.49 128.4,454.49 129.9,454.49 131.4,454.48 132.9,454.48 134.4,454.48 135.9,454.48 137.4,454.48 138.9,454.47 140.4,454.47 141.9,454.47 143.4,454.46 144.9,454.46 146.4,454.45 147.9,454.45 149.4,454.44 150.9,454.43 152.4,454.43 153.9,454.42 155.4,454.41 156.9,454.40 158.4,454.39 159.9,454.37 161.4,454.36 162.9,454.34 164.4,454.32 165.9,454.30 167.4,454.28 168.9,454.25 170.4,454.22 171.9,454.19 173.4,454.15 174.9,454.11 176.4,454.07 177.9,454.02 179.4,453.96 180.9,453.90 182.4,453.83 183.9,453.75 185.4,453.66 186.9,453.57 188.4,453.46 189.9,453.33 191.4,453.20 192.9,453.05 194.4,452.88 195.9,452.69 197.4,452.48 198.9,452.25 200.4,451.99 201.9,451.70 203.4,451.37 204.9,451.02 206.4,450.62 207.9,450.17 209.4,449.68 210.9,449.14 212.4,448.53 213.9,447.86 215.4,447.12 216.9,446.30 218.4,445.40 219.9,444.40 221.4,443.31 222.9,442.10 224.4,440.78 225.9,439.34 227.4,437.76 228.9,436.04 230.4,434.17 231.9,432.15 233.4,429.96 234.9,427.61 236.4,425.08 237.9,422.38 239.4,419.51 240.9,416.47 242.4,413.26 243.9,409.90 245.4,406.38 246.9,402.73 248.4,398.95 249.9,395.08 251.4,391.12 252.9,387.11 254.4,383.06 255.9,379.00 257.4,374.96 258.9,370.96 260.4,367.02 261.9,363.16 263.4,359.41 264.9,355.78 266.4,352.30 267.9,348.96 269.4,345.78 270.9,342.78 272.4,339.94 273.9,337.28 275.4,334.79 276.9,332.47 278.4,330.31 279.9,328.32 281.4,326.48 282.9,324.79 284.4,323.24 285.9,321.82 287.4,320.53 288.9,319.34 290.4,318.27 291.9,317.29 293.4,316.40 294.9,315.60 296.4,314.88 297.9,314.22 299.4,313.63 300.9,313.09 302.4,312.61 303.9,312.18 305.4,311.79 306.9,311.44 308.4,311.12 309.9,310.84 311.4,310.58 312.9,310.35 314.4,310.15 315.9,309.96 317.4,309.80 318.9,309.65 320.4,309.52 321.9,309.40 323.4,309.29 324.9,309.20 326.4,309.11 327.9,309.03 329.4,308.96 330.9,308.90 332.4,308.85 333.9,308.80 335.4,308.75 336.9,308.71 338.4,308.68 339.9,308.65 341.4,308.62 342.9,308.59 344.4,308.57 345.9,308.55 347.4,308.53 348.9,308.52 350.4,308.50 351.9,308.49 353.4,308.48 354.9,308.47 356.4,308.46 357.9,308.45 359.4,308.44 360.9,308.43 362.4,308.43 363.9,308.42 365.4,308.42 365.5,308.42" fill="none" stroke="#86ef8c" stroke-width="2.1" stroke-linejoin="round"/>
<polyline points="111.9,454.50 113.4,454.50 114.9,454.49 116.4,454.49 117.9,454.49 119.4,454.49 120.9,454.49 122.4,454.49 123.9,454.49 125.4,454.49 126.9,454.49 128.4,454.48 129.9,454.48 131.4,454.48 132.9,454.48 134.4,454.47 135.9,454.47 137.4,454.47 138.9,454.46 140.4,454.46 141.9,454.45 143.4,454.45 144.9,454.44 146.4,454.43 147.9,454.42 149.4,454.41 150.9,454.40 152.4,454.39 153.9,454.37 155.4,454.36 156.9,454.34 158.4,454.32 159.9,454.30 161.4,454.27 162.9,454.24 164.4,454.21 165.9,454.17 167.4,454.13 168.9,454.08 170.4,454.03 171.9,453.97 173.4,453.91 174.9,453.83 176.4,453.75 177.9,453.65 179.4,453.54 180.9,453.42 182.4,453.29 183.9,453.13 185.4,452.96 186.9,452.77 188.4,452.55 189.9,452.30 191.4,452.03 192.9,451.72 194.4,451.37 195.9,450.98 197.4,450.55 198.9,450.06 200.4,449.52 201.9,448.90 203.4,448.22 204.9,447.46 206.4,446.61 207.9,445.67 209.4,444.62 210.9,443.46 212.4,442.17 213.9,440.75 215.4,439.18 216.9,437.46 218.4,435.57 219.9,433.50 221.4,431.25 222.9,428.81 224.4,426.17 225.9,423.33 227.4,420.28 228.9,417.04 230.4,413.60 231.9,409.97 233.4,406.17 234.9,402.20 236.4,398.11 237.9,393.89 239.4,389.59 240.9,385.22 242.4,380.83 243.9,376.44 245.4,372.08 246.9,367.79 248.4,363.59 249.9,359.50 251.4,355.56 252.9,351.78 254.4,348.18 255.9,344.76 257.4,341.55 258.9,338.53 260.4,335.72 261.9,333.10 263.4,330.69 264.9,328.46 266.4,326.42 267.9,324.55 269.4,322.85 270.9,321.30 272.4,319.90 273.9,318.63 275.4,317.48 276.9,316.44 278.4,315.51 279.9,314.68 281.4,313.93 282.9,313.26 284.4,312.65 285.9,312.12 287.4,311.64 288.9,311.21 290.4,310.82 291.9,310.48 293.4,310.18 294.9,309.91 296.4,309.67 297.9,309.45 299.4,309.26 300.9,309.09 302.4,308.94 303.9,308.81 305.4,308.69 306.9,308.58 308.4,308.49 309.9,308.41 311.4,308.33 312.9,308.27 314.4,308.21 315.9,308.15 317.4,308.11 318.9,308.07 320.4,308.03 321.9,308.00 323.4,307.97 324.9,307.95 326.4,307.92 327.9,307.90 329.4,307.89 330.9,307.87 332.4,307.86 333.9,307.84 335.4,307.83 336.9,307.82 338.4,307.81 339.9,307.81 341.4,307.80 342.9,307.79 344.4,307.79 345.9,307.78 347.4,307.78 348.9,307.78 350.4,307.77 351.9,307.77 353.4,307.77 354.9,307.76 356.4,307.76 357.9,307.76 359.4,307.76 360.9,307.76 362.4,307.76 363.9,307.75 365.4,307.75 365.5,307.75" fill="none" stroke="#3be6df" stroke-width="2.1" stroke-linejoin="round"/>
<polyline points="111.9,454.49 113.4,454.49 114.9,454.49 116.4,454.49 117.9,454.49 119.4,454.49 120.9,454.49 122.4,454.49 123.9,454.49 125.4,454.48 126.9,454.48 128.4,454.48 129.9,454.48 131.4,454.47 132.9,454.47 134.4,454.47 135.9,454.46 137.4,454.46 138.9,454.45 140.4,454.44 141.9,454.44 143.4,454.43 144.9,454.42 146.4,454.41 147.9,454.40 149.4,454.38 150.9,454.37 152.4,454.35 153.9,454.33 155.4,454.31 156.9,454.28 158.4,454.25 159.9,454.22 161.4,454.19 162.9,454.14 164.4,454.10 165.9,454.04 167.4,453.98 168.9,453.92 170.4,453.84 171.9,453.75 173.4,453.65 174.9,453.54 176.4,453.42 177.9,453.27 179.4,453.11 180.9,452.93 182.4,452.73 183.9,452.49 185.4,452.23 186.9,451.94 188.4,451.61 189.9,451.23 191.4,450.81 192.9,450.34 194.4,449.80 195.9,449.20 197.4,448.53 198.9,447.78 200.4,446.93 201.9,445.99 203.4,444.93 204.9,443.76 206.4,442.45 207.9,441.00 209.4,439.39 210.9,437.62 212.4,435.66 213.9,433.52 215.4,431.17 216.9,428.62 218.4,425.85 219.9,422.85 221.4,419.64 222.9,416.20 224.4,412.54 225.9,408.68 227.4,404.62 228.9,400.40 230.4,396.02 231.9,391.52 233.4,386.92 234.9,382.27 236.4,377.59 237.9,372.93 239.4,368.31 240.9,363.77 242.4,359.35 243.9,355.07 245.4,350.95 246.9,347.02 248.4,343.30 249.9,339.79 251.4,336.50 252.9,333.43 254.4,330.58 255.9,327.96 257.4,325.54 258.9,323.33 260.4,321.31 261.9,319.48 263.4,317.82 264.9,316.32 266.4,314.97 267.9,313.75 269.4,312.65 270.9,311.67 272.4,310.80 273.9,310.01 275.4,309.31 276.9,308.69 278.4,308.14 279.9,307.64 281.4,307.20 282.9,306.81 284.4,306.47 285.9,306.16 287.4,305.89 288.9,305.65 290.4,305.44 291.9,305.25 293.4,305.08 294.9,304.93 296.4,304.80 297.9,304.68 299.4,304.58 300.9,304.49 302.4,304.41 303.9,304.34 305.4,304.28 306.9,304.22 308.4,304.17 309.9,304.13 311.4,304.09 312.9,304.06 314.4,304.03 315.9,304.00 317.4,303.98 318.9,303.96 320.4,303.94 321.9,303.92 323.4,303.91 324.9,303.90 326.4,303.88 327.9,303.88 329.4,303.87 330.9,303.86 332.4,303.85 333.9,303.85 335.4,303.84 336.9,303.84 338.4,303.83 339.9,303.83 341.4,303.83 342.9,303.82 344.4,303.82 345.9,303.82 347.4,303.82 348.9,303.81 350.4,303.81 351.9,303.81 353.4,303.81 354.9,303.81 356.4,303.81 357.9,303.81 359.4,303.81 360.9,303.81 362.4,303.81 363.9,303.80 365.4,303.80 365.5,303.80" fill="none" stroke="#8a1fd0" stroke-width="2.1" stroke-linejoin="round"/>
<polyline points="111.9,454.42 113.4,454.41 114.9,454.40 116.4,454.39 117.9,454.38 119.4,454.37 120.9,454.35 122.4,454.34 123.9,454.32 125.4,454.30 126.9,454.28 128.4,454.26 129.9,454.23 131.4,454.20 132.9,454.17 134.4,454.14 135.9,454.10 137.4,454.06 138.9,454.01 140.4,453.96 141.9,453.91 143.4,453.84 144.9,453.78 146.4,453.70 147.9,453.62 149.4,453.53 150.9,453.43 152.4,453.32 153.9,453.19 155.4,453.06 156.9,452.91 158.4,452.75 159.9,452.57 161.4,452.37 162.9,452.15 164.4,451.91 165.9,451.64 167.4,451.35 168.9,451.03 170.4,450.68 171.9,450.29 173.4,449.86 174.9,449.40 176.4,448.88 177.9,448.32 179.4,447.71 180.9,447.03 182.4,446.30 183.9,445.49 185.4,444.61 186.9,443.65 188.4,442.61 189.9,441.47 191.4,440.24 192.9,438.91 194.4,437.46 195.9,435.90 197.4,434.21 198.9,432.40 200.4,430.45 201.9,428.37 203.4,426.15 204.9,423.78 206.4,421.26 207.9,418.60 209.4,415.80 210.9,412.85 212.4,409.77 213.9,406.55 215.4,403.21 216.9,399.76 218.4,396.20 219.9,392.56 221.4,388.84 222.9,385.07 224.4,381.26 225.9,377.43 227.4,373.60 228.9,369.79 230.4,366.01 231.9,362.29 233.4,358.64 234.9,355.07 236.4,351.60 237.9,348.24 239.4,345.01 240.9,341.91 242.4,338.94 243.9,336.12 245.4,333.44 246.9,330.90 248.4,328.52 249.9,326.27 251.4,324.17 252.9,322.21 254.4,320.38 255.9,318.68 257.4,317.10 258.9,315.64 260.4,314.29 261.9,313.04 263.4,311.89 264.9,310.84 266.4,309.87 267.9,308.98 269.4,308.16 270.9,307.42 272.4,306.74 273.9,306.11 275.4,305.54 276.9,305.02 278.4,304.55 279.9,304.12 281.4,303.73 282.9,303.37 284.4,303.05 285.9,302.75 287.4,302.48 288.9,302.24 290.4,302.02 291.9,301.81 293.4,301.63 294.9,301.47 296.4,301.32 297.9,301.18 299.4,301.06 300.9,300.94 302.4,300.84 303.9,300.75 305.4,300.66 306.9,300.59 308.4,300.52 309.9,300.46 311.4,300.40 312.9,300.35 314.4,300.30 315.9,300.26 317.4,300.22 318.9,300.19 320.4,300.16 321.9,300.13 323.4,300.10 324.9,300.08 326.4,300.06 327.9,300.04 329.4,300.02 330.9,300.01 332.4,299.99 333.9,299.98 335.4,299.97 336.9,299.96 338.4,299.95 339.9,299.94 341.4,299.93 342.9,299.92 344.4,299.92 345.9,299.91 347.4,299.91 348.9,299.90 350.4,299.90 351.9,299.89 353.4,299.89 354.9,299.89 356.4,299.88 357.9,299.88 359.4,299.88 360.9,299.88 362.4,299.87 363.9,299.87 365.4,299.87 365.5,299.87" fill="none" stroke="#f7941d" stroke-width="2.1" stroke-linejoin="round"/>
<polyline points="111.9,454.10 113.4,454.06 114.9,454.01 116.4,453.96 117.9,453.90 119.4,453.83 120.9,453.76 122.4,453.68 123.9,453.59 125.4,453.49 126.9,453.38 128.4,453.26 129.9,453.13 131.4,452.98 132.9,452.82 134.4,452.64 135.9,452.44 137.4,452.22 138.9,451.98 140.4,451.71 141.9,451.42 143.4,451.10 144.9,450.74 146.4,450.35 147.9,449.93 149.4,449.46 150.9,448.94 152.4,448.38 153.9,447.77 155.4,447.10 156.9,446.37 158.4,445.58 159.9,444.71 161.4,443.78 162.9,442.76 164.4,441.66 165.9,440.48 167.4,439.20 168.9,437.83 170.4,436.36 171.9,434.78 173.4,433.09 174.9,431.30 176.4,429.39 177.9,427.37 179.4,425.23 180.9,422.98 182.4,420.61 183.9,418.14 185.4,415.55 186.9,412.85 188.4,410.06 189.9,407.16 191.4,404.19 192.9,401.13 194.4,397.99 195.9,394.80 197.4,391.56 198.9,388.27 200.4,384.95 201.9,381.62 203.4,378.28 204.9,374.95 206.4,371.63 207.9,368.33 209.4,365.08 210.9,361.88 212.4,358.73 213.9,355.64 215.4,352.63 216.9,349.70 218.4,346.86 219.9,344.10 221.4,341.44 222.9,338.88 224.4,336.42 225.9,334.06 227.4,331.80 228.9,329.65 230.4,327.59 231.9,325.64 233.4,323.78 234.9,322.02 236.4,320.36 237.9,318.78 239.4,317.30 240.9,315.90 242.4,314.58 243.9,313.34 245.4,312.18 246.9,311.09 248.4,310.06 249.9,309.11 251.4,308.21 252.9,307.37 254.4,306.59 255.9,305.86 257.4,305.17 258.9,304.54 260.4,303.94 261.9,303.39 263.4,302.88 264.9,302.40 266.4,301.95 267.9,301.54 269.4,301.15 270.9,300.80 272.4,300.46 273.9,300.15 275.4,299.87 276.9,299.60 278.4,299.35 279.9,299.12 281.4,298.91 282.9,298.71 284.4,298.53 285.9,298.36 287.4,298.20 288.9,298.06 290.4,297.92 291.9,297.80 293.4,297.68 294.9,297.57 296.4,297.47 297.9,297.38 299.4,297.30 300.9,297.22 302.4,297.14 303.9,297.08 305.4,297.01 306.9,296.95 308.4,296.90 309.9,296.85 311.4,296.80 312.9,296.76 314.4,296.72 315.9,296.68 317.4,296.65 318.9,296.62 320.4,296.59 321.9,296.56 323.4,296.54 324.9,296.51 326.4,296.49 327.9,296.47 329.4,296.45 330.9,296.44 332.4,296.42 333.9,296.41 335.4,296.39 336.9,296.38 338.4,296.37 339.9,296.36 341.4,296.35 342.9,296.34 344.4,296.33 345.9,296.32 347.4,296.32 348.9,296.31 350.4,296.30 351.9,296.30 353.4,296.29 354.9,296.29 356.4,296.28 357.9,296.28 359.4,296.28 360.9,296.27 362.4,296.27 363.9,296.27 365.4,296.26 365.5,296.26" fill="none" stroke="#e8186d" stroke-width="2.1" stroke-linejoin="round"/>
<g fill="#1b2fe0"><circle cx="121.2" cy="454.6" r="2.3"/><circle cx="238.4" cy="456" r="2.3"/><circle cx="267" cy="456.5" r="2.3"/><circle cx="292.3" cy="454.5" r="2.3"/><circle cx="316.8" cy="451" r="2.3"/><circle cx="343" cy="439.5" r="2.3"/><circle cx="365.6" cy="435.7" r="2.3"/></g>
<g fill="#0b1a7a"><circle cx="143.5" cy="454.8" r="2.3"/><circle cx="216.3" cy="458.5" r="2.3"/><circle cx="216.3" cy="449" r="2.3"/><circle cx="238.4" cy="455" r="2.3"/><circle cx="267" cy="457.3" r="2.3"/><circle cx="292.3" cy="447.2" r="2.3"/><circle cx="316.8" cy="421.7" r="2.3"/><circle cx="343" cy="372.9" r="2.3"/><circle cx="365.6" cy="362.3" r="2.3"/></g>
<g fill="#1f86ea"><circle cx="216.3" cy="455" r="2.3"/><circle cx="238.4" cy="453.3" r="2.3"/><circle cx="267" cy="444.7" r="2.3"/><circle cx="292.3" cy="395" r="2.3"/><circle cx="316.8" cy="341" r="2.3"/><circle cx="343" cy="320.2" r="2.3"/><circle cx="365.6" cy="323.4" r="2.3"/></g>
<g fill="#86ef8c"><circle cx="168.1" cy="455.5" r="2.3"/><circle cx="194.4" cy="454.5" r="2.3"/><circle cx="216.3" cy="452.5" r="2.3"/><circle cx="238.5" cy="418.8" r="2.3"/><circle cx="267" cy="349.7" r="2.3"/><circle cx="292.3" cy="322.1" r="2.3"/><circle cx="316.8" cy="310.3" r="2.3"/><circle cx="343" cy="305.9" r="2.3"/><circle cx="365.6" cy="306.9" r="2.3"/></g>
<g fill="#3be6df"><circle cx="168.1" cy="455" r="2.3"/><circle cx="194.4" cy="455.2" r="2.3"/><circle cx="216.3" cy="451.5" r="2.3"/><circle cx="239" cy="383.3" r="2.3"/><circle cx="267" cy="333.5" r="2.3"/><circle cx="292.3" cy="308" r="2.3"/><circle cx="316.8" cy="307.5" r="2.3"/><circle cx="343" cy="302.6" r="2.3"/><circle cx="365.6" cy="306" r="2.3"/></g>
<g fill="#8a1fd0"><circle cx="121.2" cy="451.5" r="2.3"/><circle cx="143.5" cy="453.5" r="2.3"/><circle cx="168.1" cy="453.5" r="2.3"/><circle cx="194.4" cy="454" r="2.3"/><circle cx="216.3" cy="436.4" r="2.3"/><circle cx="238.7" cy="362" r="2.3"/><circle cx="267" cy="325.3" r="2.3"/><circle cx="292.3" cy="311" r="2.3"/><circle cx="316.8" cy="301.6" r="2.3"/><circle cx="343" cy="297.8" r="2.3"/><circle cx="365.6" cy="300.9" r="2.3"/></g>
<g fill="#f7941d"><circle cx="121.2" cy="453.8" r="2.3"/><circle cx="143.5" cy="454.3" r="2.3"/><circle cx="168.1" cy="452" r="2.3"/><circle cx="194.4" cy="452" r="2.3"/><circle cx="216.6" cy="392.5" r="2.3"/><circle cx="238.7" cy="341.9" r="2.3"/><circle cx="267" cy="315.1" r="2.3"/><circle cx="292.3" cy="301.6" r="2.3"/><circle cx="316.8" cy="298.5" r="2.3"/><circle cx="343" cy="298" r="2.3"/><circle cx="365.6" cy="298.5" r="2.3"/></g>
<g fill="#e8186d"><circle cx="121.2" cy="454.5" r="2.3"/><circle cx="143.5" cy="451" r="2.3"/><circle cx="168.1" cy="445.7" r="2.3"/><circle cx="194" cy="396.6" r="2.3"/><circle cx="216.1" cy="348" r="2.3"/><circle cx="238.7" cy="321.9" r="2.3"/><circle cx="267" cy="304.6" r="2.3"/><circle cx="292.3" cy="297.8" r="2.3"/><circle cx="316.8" cy="295.6" r="2.3"/><circle cx="343" cy="294.3" r="2.3"/><circle cx="365.6" cy="295.1" r="2.3"/></g>
<g stroke="#1a1a1a" stroke-width="1.25" fill="none"><path d="M475.3,252.2V490.8H817.7"/><line x1="467.3" y1="490.8" x2="475.3" y2="490.8"/><line x1="470.8" y1="460.9" x2="475.3" y2="460.9"/><line x1="467.3" y1="431.1" x2="475.3" y2="431.1"/><line x1="470.8" y1="401.3" x2="475.3" y2="401.3"/><line x1="467.3" y1="371.5" x2="475.3" y2="371.5"/><line x1="470.8" y1="341.7" x2="475.3" y2="341.7"/><line x1="467.3" y1="311.8" x2="475.3" y2="311.8"/><line x1="470.8" y1="282.0" x2="475.3" y2="282.0"/><line x1="467.3" y1="252.2" x2="475.3" y2="252.2"/><line x1="475.3" y1="490.8" x2="475.3" y2="499.1"/><line x1="501.1" y1="490.8" x2="501.1" y2="495.3"/><line x1="516.1" y1="490.8" x2="516.1" y2="495.3"/><line x1="526.8" y1="490.8" x2="526.8" y2="495.3"/><line x1="535.1" y1="490.8" x2="535.1" y2="495.3"/><line x1="541.9" y1="490.8" x2="541.9" y2="495.3"/><line x1="547.6" y1="490.8" x2="547.6" y2="495.3"/><line x1="552.6" y1="490.8" x2="552.6" y2="495.3"/><line x1="557.0" y1="490.8" x2="557.0" y2="495.3"/><line x1="560.9" y1="490.8" x2="560.9" y2="499.1"/><line x1="586.7" y1="490.8" x2="586.7" y2="495.3"/><line x1="601.7" y1="490.8" x2="601.7" y2="495.3"/><line x1="612.4" y1="490.8" x2="612.4" y2="495.3"/><line x1="620.7" y1="490.8" x2="620.7" y2="495.3"/><line x1="627.5" y1="490.8" x2="627.5" y2="495.3"/><line x1="633.2" y1="490.8" x2="633.2" y2="495.3"/><line x1="638.2" y1="490.8" x2="638.2" y2="495.3"/><line x1="642.6" y1="490.8" x2="642.6" y2="495.3"/><line x1="646.5" y1="490.8" x2="646.5" y2="499.1"/><line x1="672.3" y1="490.8" x2="672.3" y2="495.3"/><line x1="687.3" y1="490.8" x2="687.3" y2="495.3"/><line x1="698.0" y1="490.8" x2="698.0" y2="495.3"/><line x1="706.3" y1="490.8" x2="706.3" y2="495.3"/><line x1="713.1" y1="490.8" x2="713.1" y2="495.3"/><line x1="718.8" y1="490.8" x2="718.8" y2="495.3"/><line x1="723.8" y1="490.8" x2="723.8" y2="495.3"/><line x1="728.2" y1="490.8" x2="728.2" y2="495.3"/><line x1="732.1" y1="490.8" x2="732.1" y2="499.1"/><line x1="757.9" y1="490.8" x2="757.9" y2="495.3"/><line x1="772.9" y1="490.8" x2="772.9" y2="495.3"/><line x1="783.6" y1="490.8" x2="783.6" y2="495.3"/><line x1="791.9" y1="490.8" x2="791.9" y2="495.3"/><line x1="798.7" y1="490.8" x2="798.7" y2="495.3"/><line x1="804.4" y1="490.8" x2="804.4" y2="495.3"/><line x1="809.4" y1="490.8" x2="809.4" y2="495.3"/><line x1="813.8" y1="490.8" x2="813.8" y2="495.3"/><line x1="817.7" y1="490.8" x2="817.7" y2="499.1"/></g>
<text x="438.5" y="262.1" font-size="15.8" textLength="17.9" lengthAdjust="spacingAndGlyphs">10</text>
<text x="456.8" y="254.8" font-size="10.3" textLength="6.6" lengthAdjust="spacingAndGlyphs">2</text>
<text x="438.5" y="320.8" font-size="15.8" textLength="17.9" lengthAdjust="spacingAndGlyphs">10</text>
<text x="456.8" y="313.5" font-size="10.3" textLength="6.6" lengthAdjust="spacingAndGlyphs">0</text>
<text x="434.6" y="379.2" font-size="15.8" textLength="17.9" lengthAdjust="spacingAndGlyphs">10</text>
<text x="452.9" y="371.9" font-size="10.3" textLength="10.5" lengthAdjust="spacingAndGlyphs">-2</text>
<text x="434.6" y="438.4" font-size="15.8" textLength="17.9" lengthAdjust="spacingAndGlyphs">10</text>
<text x="452.9" y="431.1" font-size="10.3" textLength="10.5" lengthAdjust="spacingAndGlyphs">-4</text>
<text x="434.6" y="498.9" font-size="15.8" textLength="17.9" lengthAdjust="spacingAndGlyphs">10</text>
<text x="452.9" y="491.6" font-size="10.3" textLength="10.5" lengthAdjust="spacingAndGlyphs">-6</text>
<text x="462.0" y="522.7" font-size="15.5" textLength="17.7" lengthAdjust="spacingAndGlyphs">10</text>
<text x="480.1" y="515.4" font-size="10.3" textLength="6.9" lengthAdjust="spacingAndGlyphs">0</text>
<text x="547.6" y="522.7" font-size="15.5" textLength="17.7" lengthAdjust="spacingAndGlyphs">10</text>
<text x="565.7" y="515.4" font-size="10.3" textLength="6.9" lengthAdjust="spacingAndGlyphs">1</text>
<text x="633.2" y="522.7" font-size="15.5" textLength="17.7" lengthAdjust="spacingAndGlyphs">10</text>
<text x="651.3" y="515.4" font-size="10.3" textLength="6.9" lengthAdjust="spacingAndGlyphs">2</text>
<text x="718.8" y="522.7" font-size="15.5" textLength="17.7" lengthAdjust="spacingAndGlyphs">10</text>
<text x="736.9" y="515.4" font-size="10.3" textLength="6.9" lengthAdjust="spacingAndGlyphs">3</text>
<text x="804.4" y="522.7" font-size="15.5" textLength="17.7" lengthAdjust="spacingAndGlyphs">10</text>
<text x="822.5" y="515.4" font-size="10.3" textLength="6.9" lengthAdjust="spacingAndGlyphs">4</text>
<text x="482.0" y="270.9" font-size="16.3" textLength="122.8" lengthAdjust="spacingAndGlyphs" >1G4-transduced</text>
<text x="482.0" y="290.5" font-size="16.3" textLength="88.1" lengthAdjust="spacingAndGlyphs" >T cell blasts</text>
<text x="613.3" y="314.3" font-size="16.7" textLength="66.9" lengthAdjust="spacingAndGlyphs" >164-fold</text>
<path d="M549.9,327.4V319.6H744.2V327.6" fill="none" stroke="#1a1a1a" stroke-width="1.1"/>
<path d="M750,342.2H756.7V460.2H750" fill="none" stroke="#1a1a1a" stroke-width="1.1"/>
<text transform="translate(765.3,352.7) rotate(90)" font-size="16" textLength="95.7" lengthAdjust="spacingAndGlyphs">16,000-fold</text>
<line x1="552.4" y1="467.3" x2="741.7" y2="342.2" stroke="#111" stroke-width="1.25"/>
<circle cx="551.9" cy="461.1" r="2.4" fill="#111"/>
<circle cx="591.1" cy="437" r="2.4" fill="#111"/>
<circle cx="618.2" cy="422.9" r="2.4" fill="#111"/>
<circle cx="658.4" cy="417" r="2.4" fill="#111"/>
<circle cx="664.2" cy="407.7" r="2.4" fill="#111"/>
<circle cx="686.5" cy="365" r="2.4" fill="#111"/>
<circle cx="741.4" cy="332.9" r="2.4" fill="#111"/>
<text x="612.9" y="543.8" font-size="15.8" textLength="10.6" lengthAdjust="spacingAndGlyphs" >K</text>
<text x="625.2" y="550.5" font-size="8.4" textLength="6.9" lengthAdjust="spacingAndGlyphs" >D</text>
<text x="638.7" y="543.8" font-size="15.8" textLength="39.8" lengthAdjust="spacingAndGlyphs" >(µM)</text>
<text transform="translate(426.4,407.9) rotate(-90)" font-size="16.2" textLength="7.8" lengthAdjust="spacingAndGlyphs">P</text>
<text transform="translate(433.8,395.2) rotate(-90)" font-size="8.6" textLength="9.8" lengthAdjust="spacingAndGlyphs">15</text>
<text transform="translate(426.4,377.6) rotate(-90)" font-size="16.2" textLength="41" lengthAdjust="spacingAndGlyphs">(µM)</text>
</svg>
</body></html>
